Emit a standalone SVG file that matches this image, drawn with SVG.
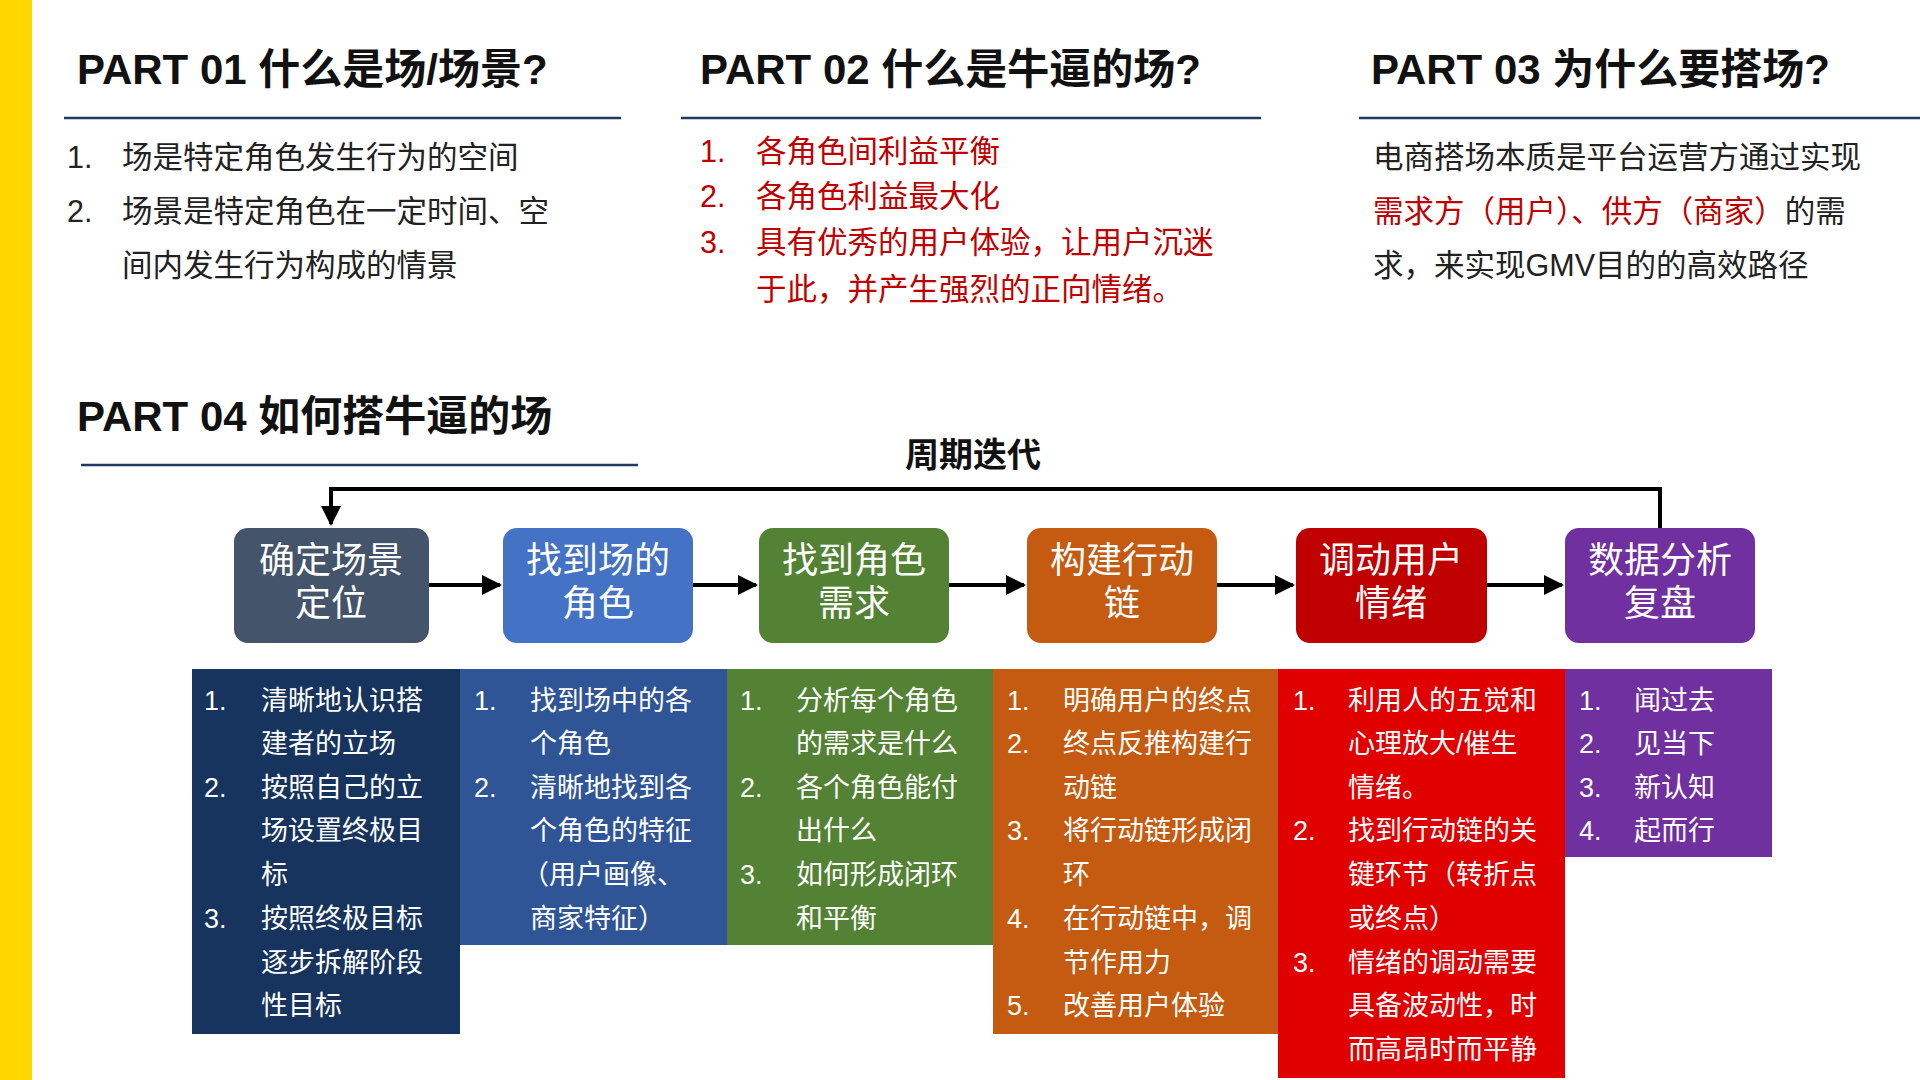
<svg xmlns="http://www.w3.org/2000/svg" width="1920" height="1080" viewBox="0 0 1920 1080">
<defs>
<marker id="ah" viewBox="0 0 10 10" refX="9" refY="5" markerWidth="5" markerHeight="5" orient="auto"><path d="M0,0L10,5L0,10z" fill="#000"/></marker>
<style>
text{font-family:"Liberation Sans","Noto Sans CJK SC",sans-serif}
.h{font-size:42px;fill:#111;font-weight:bold}
.b{font-size:30.5px;fill:#222}
.r{font-size:30.5px;fill:#C00000}
.bx{font-size:36px;fill:#fff;text-anchor:middle}
.p{font-size:27px;fill:#fff}
.ul{stroke:#1F3864;stroke-width:2.5}
.c{stroke:#000;stroke-width:4;fill:none}
</style>
</defs>
<rect width="1920" height="1080" fill="#fff"/>
<rect x="0" y="0" width="32" height="1080" fill="#FFD700"/>
<g id="part01">
<text class="h" x="77" y="84">PART 01 什么是场/场景?</text>
<line class="ul" x1="64" y1="118" x2="621" y2="118"/>
<text class="b" x="67" y="168">1.</text><text class="b" x="122" y="168">场是特定角色发生行为的空间</text>
<text class="b" x="67" y="222">2.</text><text class="b" x="122" y="222">场景是特定角色在一定时间、空</text>
<text class="b" x="122" y="276">间内发生行为构成的情景</text>
</g>
<g id="part02">
<text class="h" x="700" y="84">PART 02 什么是牛逼的场?</text>
<line class="ul" x1="681" y1="118" x2="1261" y2="118"/>
<text class="r" x="700" y="162">1.</text><text class="r" x="756" y="162">各角色间利益平衡</text>
<text class="r" x="700" y="207">2.</text><text class="r" x="756" y="207">各角色利益最大化</text>
<text class="r" x="700" y="253">3.</text><text class="r" x="756" y="253">具有优秀的用户体验，让用户沉迷</text>
<text class="r" x="756" y="300">于此，并产生强烈的正向情绪。</text>
</g>
<g id="part03">
<text class="h" x="1371" y="84">PART 03 为什么要搭场?</text>
<line class="ul" x1="1359" y1="118" x2="1920" y2="118"/>
<text class="b" x="1373" y="168">电商搭场本质是平台运营方通过实现</text>
<text class="b" x="1373" y="222"><tspan fill="#C00000">需求方（用户）、供方（商家）</tspan>的需</text>
<text class="b" x="1373" y="276">求，来实现GMV目的的高效路径</text>
</g>
<g id="part04">
<text class="h" x="77" y="431">PART 04 如何搭牛逼的场</text>
<line class="ul" x1="81" y1="465" x2="638" y2="465"/>
<text x="973" y="467" text-anchor="middle" style="font-size:34px;font-weight:bold;fill:#111">周期迭代</text>
</g>
<g id="connectors">
<path class="c" d="M1660,528V489H331V524" marker-end="url(#ah)"/>
<line class="c" x1="429" y1="585" x2="500" y2="585" marker-end="url(#ah)"/>
<line class="c" x1="693" y1="585" x2="756" y2="585" marker-end="url(#ah)"/>
<line class="c" x1="949" y1="585" x2="1024" y2="585" marker-end="url(#ah)"/>
<line class="c" x1="1217" y1="585" x2="1293" y2="585" marker-end="url(#ah)"/>
<line class="c" x1="1487" y1="585" x2="1562" y2="585" marker-end="url(#ah)"/>
</g>
<g id="n1"><rect x="234" y="528" width="195" height="115" rx="14" fill="#44546A"/><text class="bx" x="331" y="573">确定场景</text><text class="bx" x="331" y="616">定位</text></g>
<g id="n2"><rect x="503" y="528" width="190" height="115" rx="14" fill="#4472C4"/><text class="bx" x="598" y="573">找到场的</text><text class="bx" x="598" y="616">角色</text></g>
<g id="n3"><rect x="759" y="528" width="190" height="115" rx="14" fill="#548235"/><text class="bx" x="854" y="573">找到角色</text><text class="bx" x="854" y="616">需求</text></g>
<g id="n4"><rect x="1027" y="528" width="190" height="115" rx="14" fill="#C55A11"/><text class="bx" x="1122" y="573">构建行动</text><text class="bx" x="1122" y="616">链</text></g>
<g id="n5"><rect x="1296" y="528" width="191" height="115" rx="14" fill="#C00000"/><text class="bx" x="1391" y="573">调动用户</text><text class="bx" x="1391" y="616">情绪</text></g>
<g id="n6"><rect x="1565" y="528" width="190" height="115" rx="14" fill="#7030A0"/><text class="bx" x="1660" y="573">数据分析</text><text class="bx" x="1660" y="616">复盘</text></g>
<g id="d1"><rect x="192" y="669" width="268" height="365" fill="#17345E"/>
<text class="p" x="204" y="710">1.</text><text class="p" x="261" y="710">清晰地认识搭</text>
<text class="p" x="261" y="753">建者的立场</text>
<text class="p" x="204" y="797">2.</text><text class="p" x="261" y="797">按照自己的立</text>
<text class="p" x="261" y="840">场设置终极目</text>
<text class="p" x="261" y="884">标</text>
<text class="p" x="204" y="928">3.</text><text class="p" x="261" y="928">按照终极目标</text>
<text class="p" x="261" y="972">逐步拆解阶段</text>
<text class="p" x="261" y="1015">性目标</text></g>
<g id="d2"><rect x="460" y="669" width="267" height="276" fill="#2F5597"/>
<text class="p" x="474" y="710">1.</text><text class="p" x="530" y="710">找到场中的各</text>
<text class="p" x="530" y="753">个角色</text>
<text class="p" x="474" y="797">2.</text><text class="p" x="530" y="797">清晰地找到各</text>
<text class="p" x="530" y="840">个角色的特征</text>
<text class="p" x="522" y="884">（用户画像、</text>
<text class="p" x="530" y="928">商家特征）</text></g>
<g id="d3"><rect x="727" y="669" width="266" height="276" fill="#548235"/>
<text class="p" x="740" y="710">1.</text><text class="p" x="796" y="710">分析每个角色</text>
<text class="p" x="796" y="753">的需求是什么</text>
<text class="p" x="740" y="797">2.</text><text class="p" x="796" y="797">各个角色能付</text>
<text class="p" x="796" y="840">出什么</text>
<text class="p" x="740" y="884">3.</text><text class="p" x="796" y="884">如何形成闭环</text>
<text class="p" x="796" y="928">和平衡</text></g>
<g id="d4"><rect x="993" y="669" width="285" height="365" fill="#C55A11"/>
<text class="p" x="1007" y="710">1.</text><text class="p" x="1063" y="710">明确用户的终点</text>
<text class="p" x="1007" y="753">2.</text><text class="p" x="1063" y="753">终点反推构建行</text>
<text class="p" x="1063" y="797">动链</text>
<text class="p" x="1007" y="840">3.</text><text class="p" x="1063" y="840">将行动链形成闭</text>
<text class="p" x="1063" y="884">环</text>
<text class="p" x="1007" y="928">4.</text><text class="p" x="1063" y="928">在行动链中，调</text>
<text class="p" x="1063" y="972">节作用力</text>
<text class="p" x="1007" y="1015">5.</text><text class="p" x="1063" y="1015">改善用户体验</text></g>
<g id="d5"><rect x="1278" y="669" width="287" height="409" fill="#E00000"/>
<text class="p" x="1293" y="710">1.</text><text class="p" x="1348" y="710">利用人的五觉和</text>
<text class="p" x="1348" y="753">心理放大/催生</text>
<text class="p" x="1348" y="797">情绪。</text>
<text class="p" x="1293" y="840">2.</text><text class="p" x="1348" y="840">找到行动链的关</text>
<text class="p" x="1348" y="884">键环节（转折点</text>
<text class="p" x="1348" y="928">或终点）</text>
<text class="p" x="1293" y="972">3.</text><text class="p" x="1348" y="972">情绪的调动需要</text>
<text class="p" x="1348" y="1015">具备波动性，时</text>
<text class="p" x="1348" y="1059">而高昂时而平静</text></g>
<g id="d6"><rect x="1565" y="669" width="207" height="188" fill="#7030A0"/>
<text class="p" x="1579" y="710">1.</text><text class="p" x="1634" y="710">闻过去</text>
<text class="p" x="1579" y="753">2.</text><text class="p" x="1634" y="753">见当下</text>
<text class="p" x="1579" y="797">3.</text><text class="p" x="1634" y="797">新认知</text>
<text class="p" x="1579" y="840">4.</text><text class="p" x="1634" y="840">起而行</text></g>
</svg>
